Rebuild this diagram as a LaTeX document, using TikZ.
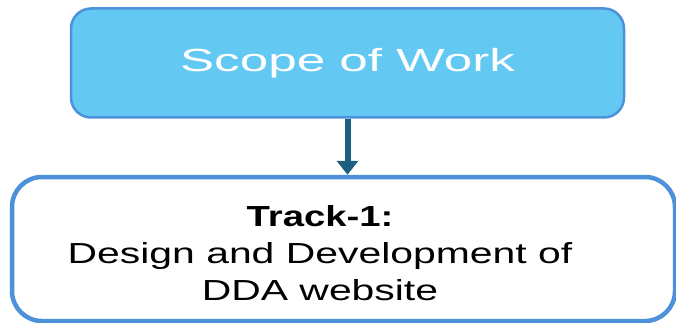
\documentclass[tikz,border=0pt]{standalone}
\usepackage{fontspec}
\setmainfont{Liberation Sans}
\newfontfamily\headfont[FakeStretch=1.6]{Liberation Sans}
\newfontfamily\bodyfont[FakeStretch=1.41, BoldFeatures={FakeStretch=1.32}]{Liberation Sans}
\usetikzlibrary{arrows.meta}
\definecolor{scopefill}{RGB}{99,201,243}
\definecolor{boxedge}{RGB}{76,145,218}
\definecolor{arrowteal}{RGB}{29,95,128}
\tikzset{
  scopebox/.style={draw=boxedge, line width=2.5pt, fill=scopefill, rounded corners=20pt,
    minimum width=553pt, minimum height=109pt, inner sep=0pt,
    text=white, font=\headfont\fontsize{32}{38}\selectfont},
  trackbox/.style={draw=boxedge, line width=4.5pt, fill=white, rounded corners=30pt,
    minimum width=663pt, minimum height=144pt, inner sep=0pt},
  tracktext/.style={align=center, inner sep=0pt, text=black,
    font=\bodyfont\fontsize{29}{37}\selectfont},
  flow/.style={draw=arrowteal, line width=6pt, -{Triangle[width=21pt,length=14pt]}}
}
\begin{document}
\begin{tikzpicture}[x=1pt,y=1pt]
  \useasboundingbox (0,0) rectangle (676,-323);
  % top box
  \node[scopebox] (scope) at (347.5,-63) {Scope of Work};
  % lower box, with its text set a little left of centre
  \node[trackbox] (track) at (343.5,-249) {};
  \node[tracktext] (tracklabel) at (320,-253) {\textbf{Track-1:}\\Design and Development of\\DDA website};
  \draw[flow] (scope.south) -- (scope.south |- track.north);
\end{tikzpicture}
\end{document}
